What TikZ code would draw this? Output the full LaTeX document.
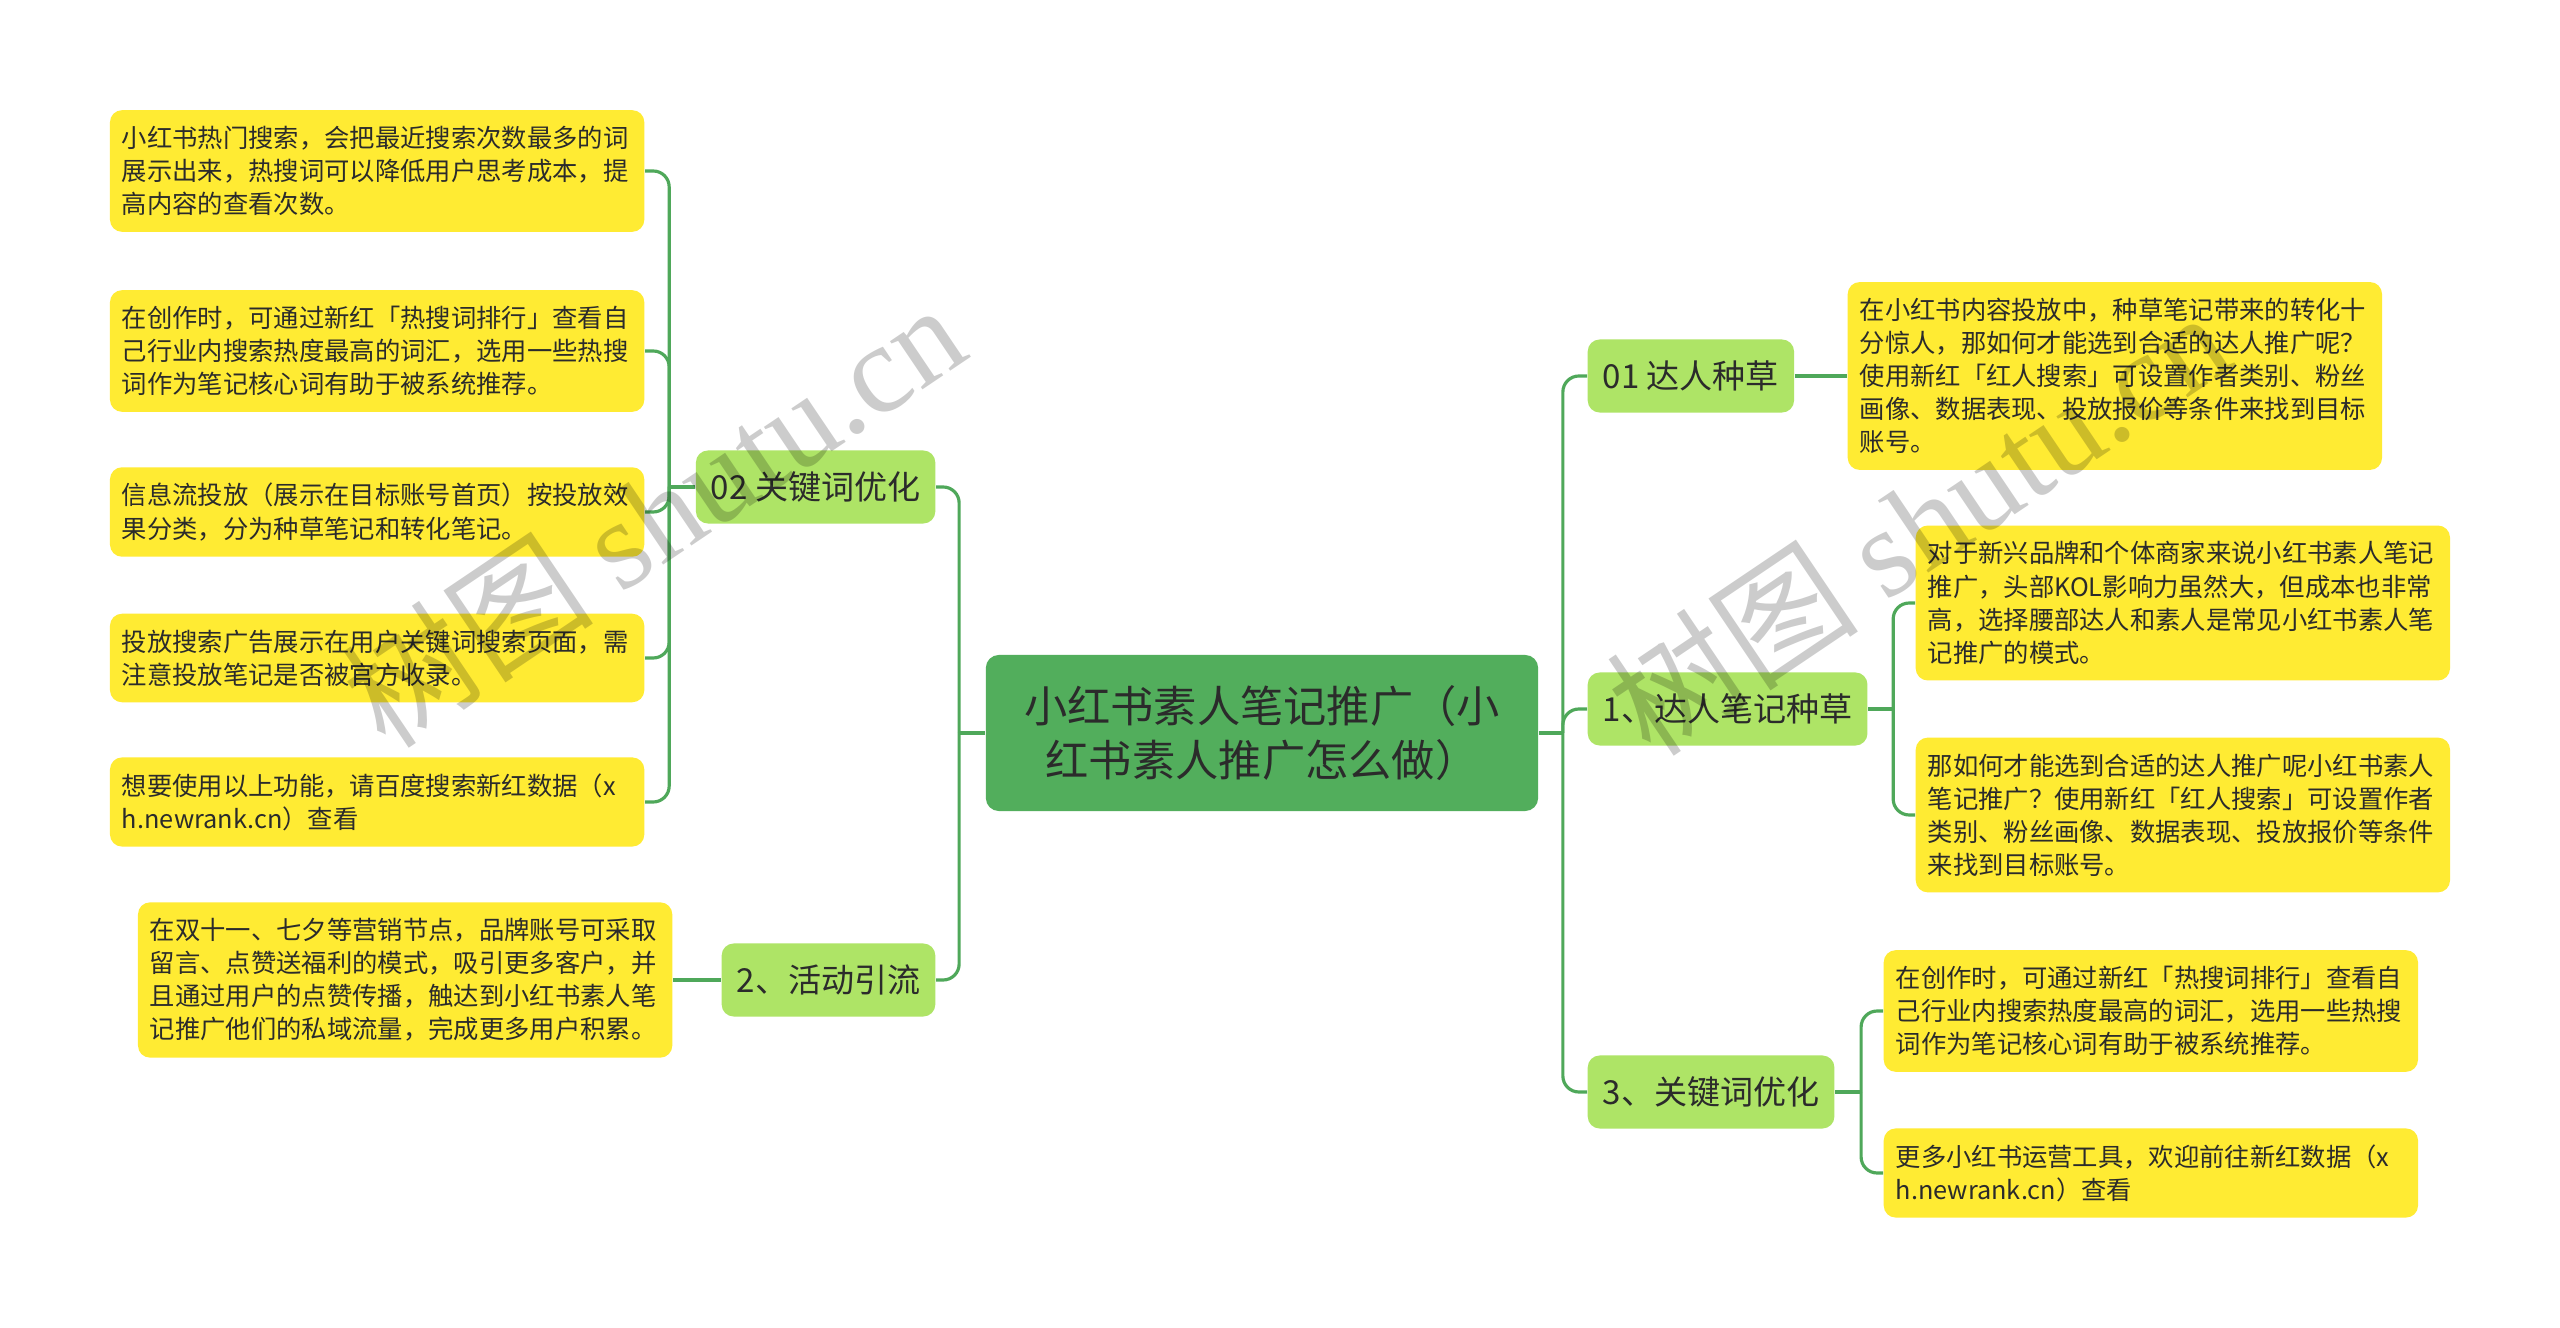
\documentclass[tikz,border=0pt]{standalone}
\usepackage{fontspec}
\usepackage{xcolor}
\usepackage{tikz}
\usetikzlibrary{positioning}
\newfontfamily\cjk{Noto Sans CJK SC}
\newfontfamily\wmserif{Liberation Serif}
\definecolor{rootgreen}{HTML}{52AE5C}
\definecolor{branchgreen}{HTML}{AEE466}
\definecolor{leafyellow}{HTML}{FFEB33}
\definecolor{linkgreen}{HTML}{4FA85A}
\definecolor{textdark}{HTML}{2B2B2B}

\begin{document}
\begin{tikzpicture}[
  x=0.01cm, y=-0.01cm,
  root/.style={fill=rootgreen,rounded corners=0.13cm,text=textdark,align=center,
               font=\cjk\fontsize{12.3}{15.6}\selectfont,
               minimum width=5.52cm,minimum height=1.56cm},
  branch/.style={fill=branchgreen,rounded corners=0.12cm,text=textdark,
                 font=\cjk\fontsize{9.4}{11}\selectfont,
                 minimum height=0.73cm,inner xsep=0.15cm},
  leaf/.style={fill=leafyellow,rounded corners=0.12cm,text=textdark,align=left,
               font=\cjk\fontsize{7.2}{9.4}\selectfont,
               text width=5.1cm,inner xsep=0.12cm,inner ysep=0.16cm},
  link/.style={draw=linkgreen,line width=0.9pt,rounded corners=0.16cm},
  watermark/.style={text=black,text opacity=0.2,rotate=34,font=\fontsize{36}{40}\selectfont},
]
  \fill[white] (0,0) rectangle (2560,1328);
  \useasboundingbox (0,0) rectangle (2560,1328);

  % centre
  \node[root] (root) at (1262,733) {小红书素人笔记推广（小\\红书素人推广怎么做）};

  % branches
  \node[branch,anchor=east] (b02) at (936,487)  {02 关键词优化};
  \node[branch,anchor=east] (b2)  at (936,980)  {2、活动引流};
  \node[branch,anchor=west] (b01) at (1587,376) {01 达人种草};
  \node[branch,anchor=west] (b1)  at (1587,709) {1、达人笔记种草};
  \node[branch,anchor=west] (b3)  at (1587,1092){3、关键词优化};

  % leaves, left
  \node[leaf,anchor=east] (l1) at (645,171) {小红书热门搜索，会把最近搜索次数最多的词\\展示出来，热搜词可以降低用户思考成本，提\\高内容的查看次数。};
  \node[leaf,anchor=east] (l2) at (645,351) {在创作时，可通过新红「热搜词排行」查看自\\己行业内搜索热度最高的词汇，选用一些热搜\\词作为笔记核心词有助于被系统推荐。};
  \node[leaf,anchor=east] (l3) at (645,512) {信息流投放（展示在目标账号首页）按投放效\\果分类，分为种草笔记和转化笔记。};
  \node[leaf,anchor=east] (l4) at (645,658) {投放搜索广告展示在用户关键词搜索页面，需\\注意投放笔记是否被官方收录。};
  \node[leaf,anchor=east] (l5) at (645,802) {想要使用以上功能，请百度搜索新红数据（x\\h.newrank.cn）查看};
  \node[leaf,anchor=east] (la) at (673,980) {在双十一、七夕等营销节点，品牌账号可采取\\留言、点赞送福利的模式，吸引更多客户，并\\且通过用户的点赞传播，触达到小红书素人笔\\记推广他们的私域流量，完成更多用户积累。};

  % leaves, right
  \node[leaf,anchor=west] (r01) at (1847,376) {在小红书内容投放中，种草笔记带来的转化十\\分惊人，那如何才能选到合适的达人推广呢？\\使用新红「红人搜索」可设置作者类别、粉丝\\画像、数据表现、投放报价等条件来找到目标\\账号。};
  \node[leaf,anchor=west] (r1a) at (1915,603) {对于新兴品牌和个体商家来说小红书素人笔记\\推广，头部KOL影响力虽然大，但成本也非常\\高，选择腰部达人和素人是常见小红书素人笔\\记推广的模式。};
  \node[leaf,anchor=west] (r1b) at (1915,815) {那如何才能选到合适的达人推广呢小红书素人\\笔记推广？使用新红「红人搜索」可设置作者\\类别、粉丝画像、数据表现、投放报价等条件\\来找到目标账号。};
  \node[leaf,anchor=west] (r3a) at (1883,1011) {在创作时，可通过新红「热搜词排行」查看自\\己行业内搜索热度最高的词汇，选用一些热搜\\词作为笔记核心词有助于被系统推荐。};
  \node[leaf,anchor=west] (r3b) at (1883,1173) {更多小红书运营工具，欢迎前往新红数据（x\\h.newrank.cn）查看};

  % connectors
  \path (root.west) ++(-26,0) coordinate (jl);
  \path (root.east) ++(24,0) coordinate (jr);
  \path (b02.west) ++(-26,0) coordinate (j02);
  \path (b1.east) ++(25,0) coordinate (j1);
  \path (b3.east) ++(26,0) coordinate (j3);

  \draw[link] (root.west) -- (jl);
  \draw[link] (jl) |- (b02.east);
  \draw[link] (jl) |- (b2.east);
  \draw[link] (root.east) -- (jr);
  \foreach \b in {b01,b1,b3} \draw[link] (jr) |- (\b.west);

  \draw[link] (b02.west) -- (j02);
  \foreach \l in {l1,l2,l3,l4,l5} \draw[link] (j02) |- (\l.east);
  \draw[link] (b2.west) -- (la.east);

  \draw[link] (b01.east) -- (r01.west);
  \draw[link] (b1.east) -- (j1);
  \foreach \r in {r1a,r1b} \draw[link] (j1) |- (\r.west);
  \draw[link] (b3.east) -- (j3);
  \foreach \r in {r3a,r3b} \draw[link] (j3) |- (\r.west);

  % watermarks
  \node[watermark] (wm1) at (653,514)  {\cjk 树图 \wmserif shutu.cn};
  \node[watermark] (wm2) at (1918,522) {\cjk 树图 \wmserif shutu.cn};
\end{tikzpicture}
\end{document}
